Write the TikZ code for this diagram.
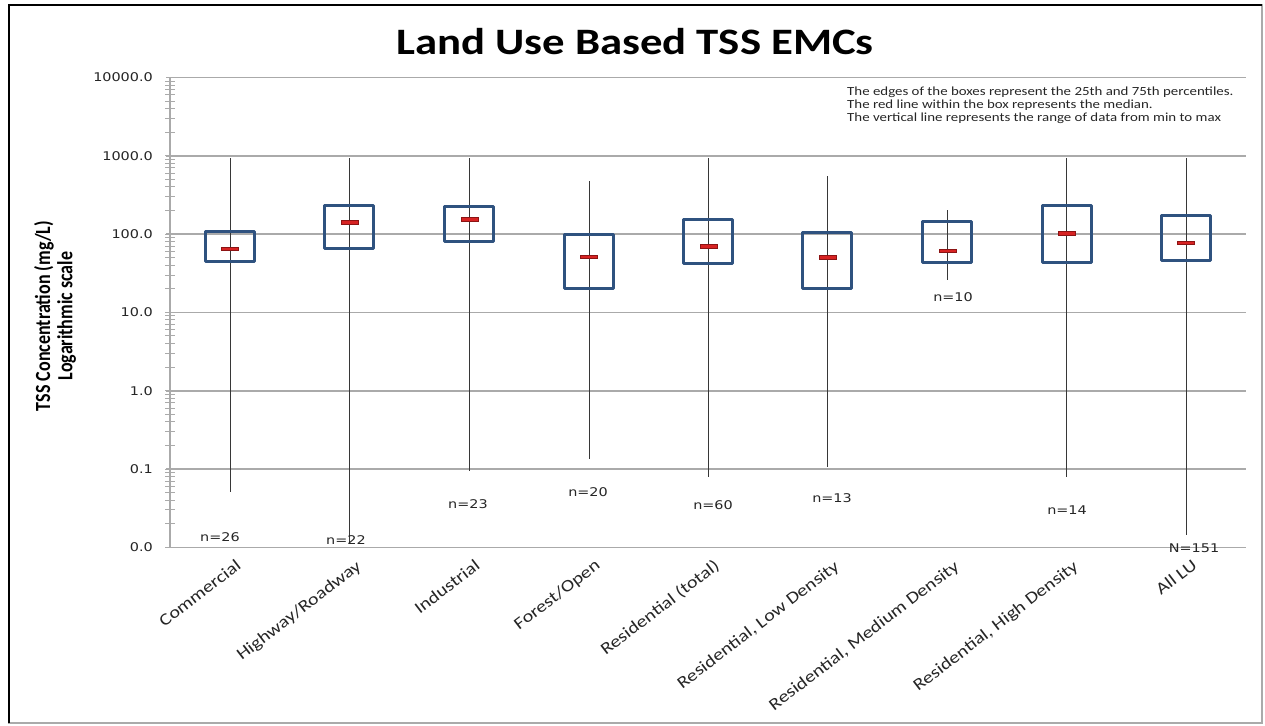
\documentclass[tikz,border=0pt]{standalone}
\usepackage{fontspec}
\setmainfont{Carlito}
\newfontfamily\calS[FakeStretch=1.2]{Carlito}
\newfontfamily\calP{Carlito}
\newfontfamily\verS[FakeStretch=1.2]{DejaVu Sans}
\definecolor{boxblue}{RGB}{47,82,127}
\definecolor{gridgray}{RGB}{170,170,170}
\definecolor{whiskgray}{RGB}{55,55,55}
\definecolor{medred}{RGB}{215,35,35}
\definecolor{meddark}{RGB}{140,20,20}
\begin{document}
\begin{tikzpicture}[x=1pt,y=-1pt,
  grid/.style={draw=gridgray,line width=1.6},
  tickst/.style={draw=gridgray,line width=1},
  whisk/.style={draw=whiskgray,line width=1},
  boxst/.style={draw=boxblue,line width=3,line join=round},
  medst/.style={fill=medred,draw=meddark,line width=0.5},
  ticklab/.style={anchor=east,inner sep=0pt,font=\verS\fontsize{12}{12}\selectfont,text=black!85},
  nlab/.style={inner sep=0pt,font=\verS\fontsize{12}{12}\selectfont,text=black!85},
  catlab/.style={anchor=north east,inner sep=0pt,rotate=37.5,font=\calS\fontsize{16.8}{16.8}\selectfont,text=black!85},
  ylab/.style={inner sep=0pt,transform shape,xscale=1.2,rotate=90,align=center,font=\calP\bfseries\fontsize{18}{18.5}\selectfont},
  legend/.style={anchor=north west,inner sep=0pt,align=left,font=\calS\fontsize{12.4}{12.6}\selectfont,text=black!85},
  titlest/.style={inner sep=0pt,font=\calS\bfseries\fontsize{37.3}{38}\selectfont}
]
\useasboundingbox (0,0) rectangle (1265,725);
\fill[white] (0,0) rectangle (1265,725);
% frame
\draw[draw=gridgray,line width=1.5] (9,5) rectangle (1262,723);
\draw[black,line width=2.5] (9,723) -- (9,5) -- (1262,5);
% title
\node[titlest,anchor=base] (title) at (635,55) {Land Use Based TSS EMCs};
% gridlines and tick labels
\foreach \i/\lab in {0/10000.0,1/1000.0,2/100.0,3/10.0,4/1.0,5/0.1,6/0.0}{
  \pgfmathsetmacro\yy{77.5+78.3*\i}
  \draw[grid] (166,\yy) -- (1246,\yy);
  \node[ticklab] (t\i) at (153,\yy) {\lab};
}
% axis and minor ticks
\draw[grid] (170,77.5) -- (170,547.3);
\foreach \d in {1,...,6}{
  \foreach \k in {1,...,9}{
    \pgfmathsetmacro\yy{77.5+78.3*\d-78.3*log10(\k)}
    \draw[tickst] (165,\yy) -- (175,\yy);
  }
}
% boxes: x / whisker top / whisker bottom / q75 / q25 / median
\foreach \x/\t/\b/\q/\Q/\m in {
  230/158.3/491.7/231.7/261/248.7,
  349.3/158.3/543.3/205.7/248.3/222,
  469.3/158.3/470.7/206.7/241.7/219.3,
  589/181/459.3/234/288.3/256.7,
  708.3/158.3/476.7/219.3/263.3/246,
  827.3/176/466.7/232.7/288.3/257.3,
  947.3/210/280/221/262.3/250.7,
  1066.7/158.3/476.7/205.7/262.3/233.3,
  1186/158.3/535/215.7/260.7/242.7}{
  \draw[whisk] (\x,\t) -- (\x,\b);
  \draw[boxst] (\x-24.6,\q) rectangle (\x+24.6,\Q);
  \filldraw[medst] (\x-8.5,\m-1.9) rectangle (\x+8.5,\m+1.9);
}
% n labels
\node[nlab] (n1) at (220,537) {n=26};
\node[nlab] (n2) at (346,540) {n=22};
\node[nlab] (n3) at (468,504) {n=23};
\node[nlab] (n4) at (588,492) {n=20};
\node[nlab] (n5) at (713,505) {n=60};
\node[nlab] (n6) at (832,498) {n=13};
\node[nlab] (n7) at (953,297) {n=10};
\node[nlab] (n8) at (1067,510) {n=14};
\node[nlab] (n9) at (1194,548) {N=151};
% category labels
\node[catlab] (c1) at (235,558) {Commercial};
\node[catlab] (c2) at (355,559) {Highway/Roadway};
\node[catlab] (c3) at (474,558) {Industrial};
\node[catlab] (c4) at (594,558) {Forest/Open};
\node[catlab] (c5) at (713,558) {Residential (total)};
\node[catlab] (c6) at (833,559) {Residential, Low Density};
\node[catlab] (c7) at (953,559) {Residential, Medium Density};
\node[catlab] (c8) at (1072,559) {Residential, High Density};
\node[catlab] (c9) at (1191,558) {All LU};
% y axis label
\begin{scope}[shift={(55,316)}]\node[ylab] (ylab) at (0,0) {TSS Concentration (mg/L)\\Logarithmic scale};\end{scope}
% legend text
\node[legend] (leg) at (847,87) {The edges of the boxes represent the 25th and 75th percentiles.\\The red line within the box represents the median.\\The vertical line represents the range of data from min to max};
\end{tikzpicture}
\end{document}
